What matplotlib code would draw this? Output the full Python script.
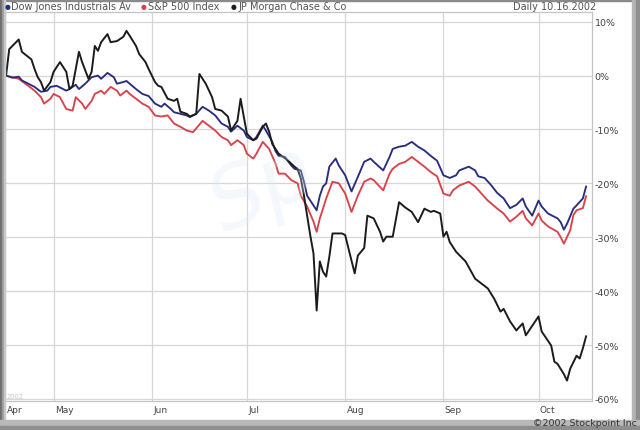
import matplotlib
matplotlib.use('Agg')
import matplotlib.pyplot as plt
import pandas as pd
import numpy as np
from matplotlib.patches import Rectangle
from matplotlib.transforms import blended_transform_factory

# ---------------- data (percent change since start) ----------------
START = pd.Timestamp('2002-04-16')
END = pd.Timestamp('2002-10-16')

jpm_day = [0, 1, 4, 5, 8, 9, 10, 11, 12, 14, 15, 17, 19, 20, 21, 23, 24, 26, 27, 28,
           29, 30, 32, 33, 35, 37, 38, 39, 41, 42, 44, 45, 47, 48, 49, 51, 53, 54, 55, 57,
           58, 60, 61, 63, 65, 66, 68, 70, 71, 73, 74, 75, 76, 78, 79, 81, 82, 83, 84, 86,
           87, 89, 91, 92, 93, 94, 95, 96, 97, 98, 99, 100, 101, 102, 103, 106, 107, 108, 110, 111,
           113, 114, 116, 118, 119, 120, 122, 124, 126, 128, 130, 132, 134, 135, 137, 138, 139, 140, 142, 145,
           148, 150, 152, 154, 156, 157, 159, 161, 163, 164, 168, 169, 172, 173, 174, 176, 177, 178, 180, 181,
           182, 183]
jpm_pct = [0, 4.9, 6.7, 4.4, 3.0, 1.2, -0.3, -1.2, -2.8, -1.2, 0.7, 2.5, 0.7, -2.5, -1.9, 4.4, 2.5, -0.6, 0.7, 5.5,
           4.6, 6.2, 7.7, 6.2, 6.4, 7.2, 8.3, 7.4, 5.5, 4.0, 2.5, 1.2, -1.2, -1.9, -2.1, -4.3, -4.7, -4.3, -6.7, -7.1,
           -7.6, -7.1, 0.3, -1.5, -4.0, -6.2, -6.5, -7.6, -10.2, -8.4, -4.3, -7.6, -10.8, -12.0, -11.7, -9.5, -8.9, -10.4, -12.7, -14.5,
           -14.9, -15.8, -16.9, -17.3, -19.1, -22.3, -26.0, -29.7, -33.0, -43.6, -34.5, -36.4, -37.3, -33.6, -29.3, -29.3, -29.6, -32.0, -36.7, -33.4,
           -32.0, -26.0, -26.5, -29.0, -30.8, -29.9, -29.9, -23.5, -24.5, -25.3, -27.2, -24.7, -25.3, -25.1, -25.6, -29.9, -29.0, -30.9, -32.7, -34.5,
           -37.7, -38.6, -39.5, -41.4, -43.8, -43.3, -45.6, -47.3, -46.0, -48.2, -44.7, -47.5, -50.1, -53.1, -53.5, -55.4, -56.6, -54.4, -52.0, -52.5,
           -50.6, -48.4]

dow_day = [0, 2, 4, 5, 7, 9, 11, 13, 14, 16, 19, 20, 22, 23, 25, 27, 29, 30, 32, 34,
           35, 37, 38, 39, 41, 43, 45, 47, 49, 50, 52, 53, 55, 57, 58, 60, 62, 64, 66, 68,
           70, 71, 73, 75, 76, 78, 79, 81, 82, 84, 85, 86, 88, 90, 91, 93, 94, 95, 97, 98,
           99, 100, 101, 102, 104, 105, 107, 109, 111, 113, 115, 116, 119, 121, 122, 124, 126, 128, 130, 132,
           134, 136, 138, 140, 142, 143, 146, 148, 149, 151, 153, 155, 157, 159, 161, 163, 164, 166, 168, 169,
           171, 174, 175, 176, 177, 179, 180, 182, 183]
dow_pct = [0, -0.4, -0.2, -0.9, -1.5, -2.1, -3.0, -2.8, -2.1, -1.9, -2.8, -2.5, -1.7, -2.5, -1.5, -0.3, 0.0, -0.6, 0.5, -0.3,
           -1.5, -1.2, -1.0, -1.5, -2.5, -3.4, -3.8, -5.2, -5.8, -5.2, -6.2, -6.8, -7.1, -7.4, -7.7, -7.1, -5.8, -6.5, -7.4, -8.9,
           -9.5, -10.4, -9.3, -10.2, -11.4, -12.0, -11.4, -9.3, -10.2, -12.3, -14.0, -14.9, -15.1, -16.7, -17.3, -17.6, -19.7, -22.3, -24.1, -25.0,
           -22.3, -20.6, -20.0, -16.9, -15.4, -16.7, -18.5, -21.5, -18.8, -16.0, -15.4, -16.0, -17.6, -15.1, -13.6, -13.2, -13.0, -12.3, -13.2, -13.9,
           -14.9, -15.8, -18.5, -19.0, -18.5, -17.6, -16.9, -17.6, -18.7, -19.0, -20.3, -21.8, -22.8, -24.6, -24.0, -22.8, -24.3, -26.0, -23.2, -24.3,
           -25.6, -26.5, -27.2, -28.6, -27.5, -24.7, -24.1, -22.8, -20.6]

spx_day = [0, 4, 7, 9, 11, 12, 14, 15, 17, 19, 21, 22, 24, 25, 27, 28, 30, 31, 33, 35,
           36, 38, 39, 41, 43, 45, 47, 49, 51, 53, 55, 57, 59, 62, 64, 66, 68, 70, 71, 73,
           75, 76, 78, 79, 81, 83, 85, 86, 88, 90, 92, 93, 95, 97, 98, 99, 100, 101, 103, 105,
           107, 109, 111, 113, 115, 116, 119, 121, 122, 124, 126, 128, 130, 132, 134, 136, 138, 140, 141, 143,
           146, 148, 150, 152, 155, 157, 159, 161, 163, 164, 166, 168, 169, 171, 174, 175, 176, 178, 179, 180,
           182, 183]
spx_pct = [0, -0.6, -1.9, -2.8, -4.0, -5.2, -4.3, -3.4, -4.0, -6.2, -6.5, -4.0, -5.2, -6.2, -4.7, -3.4, -2.8, -3.4, -2.1, -2.8,
           -3.7, -2.8, -3.4, -4.3, -5.2, -5.8, -7.4, -7.6, -7.4, -8.9, -9.5, -10.2, -10.5, -8.4, -9.3, -10.2, -11.4, -12.0, -12.9, -12.0,
           -12.9, -14.5, -15.4, -14.5, -12.3, -13.6, -16.3, -18.2, -18.2, -19.4, -20.0, -22.3, -24.3, -27.1, -29.0, -26.5, -24.7, -22.8, -19.7, -20.0,
           -21.9, -25.3, -22.3, -19.7, -19.1, -19.4, -21.3, -18.2, -17.3, -16.4, -16.0, -15.1, -16.0, -16.9, -17.9, -18.7, -21.9, -22.3, -21.3, -20.4,
           -19.7, -20.6, -21.9, -23.2, -24.7, -25.6, -27.1, -26.2, -25.1, -26.5, -27.8, -25.6, -26.9, -28.0, -29.0, -30.0, -31.2, -28.7, -25.9, -25.0,
           -24.6, -22.4]

series_names = ['Dow Jones Industrials Av', 'S&P 500 Index', 'JP Morgan Chase & Co']
month_labels = ['Apr', 'May', 'Jun', 'Jul', 'Aug', 'Sep', 'Oct']
month_dates = ['2002-04-16', '2002-05-01', '2002-06-01', '2002-07-01',
               '2002-08-01', '2002-09-01', '2002-10-01']
y_ticks = [10, 0, -10, -20, -30, -40, -50, -60]
header_right = 'Daily 10.16.2002'
copyright_text = '\u00a92002 Stockpoint Inc'

# ---------------- figure ----------------
W, H = 640, 431
fig = plt.figure(figsize=(W / 100, H / 100), dpi=100)
fig.patch.set_facecolor('white')

def fx(px):
    return px / W

def fy(py):
    return 1 - py / H

# plot area
left, right, top, bottom = 5, 592, 13, 401.5
ax = fig.add_axes([fx(left), fy(bottom), fx(right - left), (bottom - top) / H])
ax.set_facecolor('white')

def to_dates(days):
    return START + pd.to_timedelta(np.asarray(days, dtype=float), unit='D')

c_dow, c_spx, c_jpm = '#2a2d7c', '#d8434b', '#1c1c1c'
ax.plot(to_dates(spx_day), spx_pct, color=c_spx, lw=1.35, zorder=3)
ax.plot(to_dates(dow_day), dow_pct, color=c_dow, lw=1.35, zorder=4)
ax.plot(to_dates(jpm_day), jpm_pct, color=c_jpm, lw=1.4, zorder=5)

ax.set_xlim(START - pd.Timedelta(hours=8), END + pd.Timedelta(hours=45))
ax.set_ylim(-60.3, 11.8)

# gridlines
for v in y_ticks:
    ax.axhline(v, color='#d6d6d6', lw=0.9, zorder=1)
for d in month_dates[1:]:
    ax.axvline(pd.Timestamp(d), color='#d6d6d6', lw=0.9, zorder=1)

ax.set_xticks([])
ax.yaxis.tick_right()
ax.set_yticks(y_ticks)
ax.set_yticklabels([f'{v}%' for v in y_ticks], fontsize=6.8, color='#444444')
ax.tick_params(axis='y', length=0, pad=2)
for s in ax.spines.values():
    s.set_color('#c4c4c4')
    s.set_linewidth(0.9)

# month labels
trans = blended_transform_factory(ax.transData, ax.transAxes)
for lab, d in zip(month_labels, month_dates):
    ax.text(pd.Timestamp(d) + pd.Timedelta(hours=10), -0.012, lab, transform=trans,
            ha='left', va='top', fontsize=6.5, color='#444444')
fig.text(fx(7), fy(397), '2002', fontsize=4.8, color='#c8c8c8', ha='left', va='center')

# watermark
fig.text(fx(262), fy(190), 'Sp', fontsize=60, color='#dde9f5', alpha=0.3,
         style='italic', ha='center', va='center', rotation=25, zorder=0)

# header legend
hy = fy(6.5)
colors = [c_dow, c_spx, c_jpm]
xs_dot = [5, 141, 231]
xs_txt = [11, 148, 238]
for name, c, xd, xt in zip(series_names, colors, xs_dot, xs_txt):
    fig.text(fx(xd), hy, '\u25cf', color=c, fontsize=4.8, ha='left', va='center', zorder=12)
    fig.text(fx(xt), hy, name, color='#555555', fontsize=7, ha='left', va='center', zorder=12)
fig.text(fx(596), hy, header_right, color='#555555', fontsize=7, ha='right', va='center')

# frame / bevel
frame = [
    (0, 0, 640, 2, '#8a8a8a'),
    (0, 0, 2, 431, '#6e6e6e'),
    (2, 0, 1.5, 431, '#9a9a9a'),
    (3.5, 0, 1.5, 431, '#c8c8c8'),
    (632, 0, 8, 431, '#b4b4b4'),
    (636, 0, 4, 431, '#8e8e8e'),
    (0, 421, 640, 10, '#b8b8b8'),
    (0, 427, 640, 4, '#8e8e8e'),
]
for x0, y0, w, h, c in frame:
    fig.patches.append(Rectangle((fx(x0), fy(y0 + h)), w / W, h / H,
                                 transform=fig.transFigure, color=c, zorder=10))

fig.text(fx(637), fy(423.5), copyright_text, fontsize=6.8, color='#333333',
         ha='right', va='center', zorder=11)

fig.savefig('out.png', dpi=100)
